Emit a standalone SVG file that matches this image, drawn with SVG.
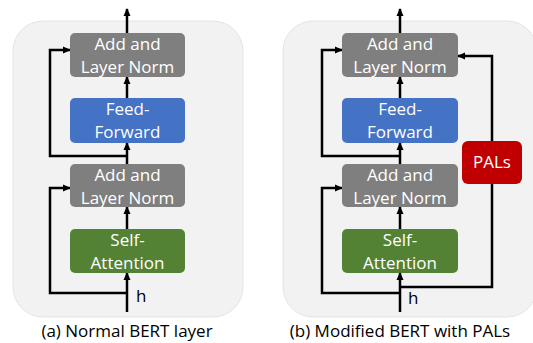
<svg xmlns="http://www.w3.org/2000/svg" width="533" height="343" viewBox="0 0 533 343">
<style>
.bg{fill:#f2f2f2;stroke:#e4e4e4;stroke-width:1}
.gray{fill:#7f7f7f}
.blue{fill:#4472c4}
.green{fill:#548235}
.red{fill:#c00000}
.nt{font-family:"Open Sans",sans-serif;font-size:17px;fill:#ffffff;text-anchor:middle}
.lt{font-family:"Open Sans",sans-serif;font-size:17px;fill:#000000}
.cap{font-family:"Open Sans",sans-serif;font-size:17px;fill:#000000;text-anchor:middle}
.ln{fill:none;stroke:#000000;stroke-width:2.5;stroke-linejoin:miter}
.ar{fill:none;stroke:#000000;stroke-width:2.5;marker-end:url(#ah)}
</style>
<defs>
<marker id="ah" markerWidth="8" markerHeight="8" refX="7" refY="4" orient="auto" markerUnits="userSpaceOnUse">
<path d="M0,0.5 L8,4 L0,7.5 Z" fill="#000000"/>
</marker>
</defs>
<g id="panel-a">
<rect class="bg" x="13" y="21" width="230" height="296" rx="30" ry="30"/>
</g>
<g id="panel-b">
<rect class="bg" x="283" y="21" width="254" height="296" rx="30" ry="30"/>
</g>
<g id="connectors">
<!-- panel a -->
<line class="ar" x1="127" y1="33" x2="127" y2="9"/>
<line class="ar" x1="127" y1="98" x2="127" y2="77"/>
<line class="ar" x1="127" y1="164" x2="127" y2="143"/>
<line class="ar" x1="127" y1="229" x2="127" y2="207"/>
<line class="ar" x1="127" y1="312" x2="127" y2="273"/>
<polyline class="ar" points="127,156 50,156 50,50 70,50"/>
<polyline class="ar" points="127,293 50,293 50,188 70,188"/>
<!-- panel b -->
<line class="ar" x1="400" y1="33" x2="400" y2="9"/>
<line class="ar" x1="400" y1="98" x2="400" y2="77"/>
<line class="ar" x1="400" y1="164" x2="400" y2="143"/>
<line class="ar" x1="400" y1="229" x2="400" y2="207"/>
<line class="ar" x1="400" y1="312" x2="400" y2="273"/>
<polyline class="ar" points="400,156 322,156 322,50 342,50"/>
<polyline class="ar" points="400,293 322,293 322,188 342,188"/>
<polyline class="ar" points="400,287 492,287 492,56 458,56"/>
</g>
<g id="a-addnorm2">
<rect class="gray" x="70" y="33" width="115" height="44" rx="5"/>
<text class="nt" x="127.5" y="50">Add and</text>
<text class="nt" x="127.5" y="73">Layer Norm</text>
</g>
<g id="a-feedforward">
<rect class="blue" x="70" y="98" width="115" height="45" rx="5"/>
<text class="nt" x="127.5" y="115">Feed-</text>
<text class="nt" x="127.5" y="138">Forward</text>
</g>
<g id="a-addnorm1">
<rect class="gray" x="70" y="164" width="115" height="43" rx="5"/>
<text class="nt" x="127.5" y="181">Add and</text>
<text class="nt" x="127.5" y="204">Layer Norm</text>
</g>
<g id="a-selfattn">
<rect class="green" x="70" y="229" width="115" height="44" rx="5"/>
<text class="nt" x="127.5" y="246">Self-</text>
<text class="nt" x="127.5" y="269">Attention</text>
</g>
<g id="a-h"><text class="lt" x="136" y="302">h</text></g>
<g id="b-addnorm2">
<rect class="gray" x="342" y="33" width="116" height="44" rx="5"/>
<text class="nt" x="400" y="50">Add and</text>
<text class="nt" x="400" y="73">Layer Norm</text>
</g>
<g id="b-feedforward">
<rect class="blue" x="342" y="98" width="116" height="45" rx="5"/>
<text class="nt" x="400" y="115">Feed-</text>
<text class="nt" x="400" y="138">Forward</text>
</g>
<g id="b-addnorm1">
<rect class="gray" x="342" y="164" width="116" height="43" rx="5"/>
<text class="nt" x="400" y="181">Add and</text>
<text class="nt" x="400" y="204">Layer Norm</text>
</g>
<g id="b-selfattn">
<rect class="green" x="342" y="229" width="116" height="44" rx="5"/>
<text class="nt" x="400" y="246">Self-</text>
<text class="nt" x="400" y="269">Attention</text>
</g>
<g id="b-pals">
<rect class="red" x="462" y="141" width="60" height="43" rx="6"/>
<text class="nt" x="492" y="168">PALs</text>
</g>
<g id="b-h"><text class="lt" x="408" y="304">h</text></g>
<g id="captions">
<text class="cap" x="127" y="337">(a) Normal BERT layer</text>
<text class="cap" x="400" y="337">(b) Modified BERT with PALs</text>
</g>
</svg>
